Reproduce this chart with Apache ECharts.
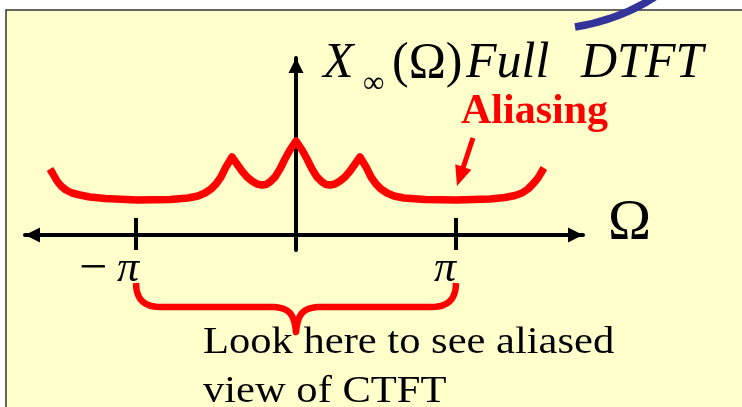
<!DOCTYPE html>
<html>
<head>
<meta charset="utf-8">
<script src="https://cdn.jsdelivr.net/npm/echarts@6/dist/echarts.min.js"></script>
<style>
  html, body { margin: 0; padding: 0; background: #ffffff; }
  #chart { width: 742px; height: 407px; }
</style>
</head>
<body>
<div id="chart"></div>
<script>
// Frequency Ω in units of π, and |X∞(Ω)| measured above the frequency axis
const omega = [
  -1.538, -1.519, -1.494, -1.469, -1.438, -1.400, -1.350, -1.288, -1.194, -0.994,
  -0.788, -0.675, -0.613, -0.569, -0.531, -0.500, -0.469, -0.438, -0.400, -0.369,
  -0.338, -0.306, -0.275, -0.244, -0.213, -0.188, -0.163, -0.131, -0.100, -0.069,
  -0.038, 0.000, 0.038, 0.069, 0.100, 0.131, 0.163, 0.188, 0.213, 0.244,
  0.275, 0.306, 0.338, 0.369, 0.400, 0.438, 0.469, 0.500, 0.531, 0.569,
  0.613, 0.675, 0.806, 1.000, 1.213, 1.306, 1.369, 1.413, 1.450, 1.481,
  1.513, 1.531, 1.550
];
const magnitude = [
  66, 61, 54, 49, 45, 42, 40, 38, 36.5, 35,
  35.5, 37, 39, 42, 46, 51, 58, 68, 78, 71,
  64, 58, 54, 51, 50, 50.5, 53, 58, 66, 76,
  85, 94, 85, 76, 66, 58, 53, 50.5, 50, 51,
  54, 58, 64, 71, 78, 68, 58, 51, 46, 42,
  39, 37, 35.5, 35, 36, 37.5, 39.5, 42, 46, 51,
  57, 62, 67
];
const tickValues = [-1, 1];
const tickLabels = ['π', 'π'];
const tickSigns = ['−', ''];
const axisRange = { xMin: -1.694, xMax: 1.794, yMin: -15, yMax: 177 };

const FONT = '"Liberation Serif", "Times New Roman", serif';
const chart = echarts.init(document.getElementById('chart'), null, { renderer: 'canvas' });

const axisStroke = { color: '#000000', width: 4 };

chart.setOption({
  backgroundColor: '#ffffff',
  animation: false,
  grid: { left: 25, right: 159, top: 58, bottom: 157 },
  xAxis: [
    {
      type: 'value', min: axisRange.xMin, max: axisRange.xMax, position: 'bottom',
      axisLine: {
        show: true, onZero: true, onZeroAxisIndex: 0,
        symbol: ['triangle', 'triangle'], symbolSize: [15, 15], symbolOffset: [7.5, -7.5],
        lineStyle: axisStroke
      },
      axisTick: { show: true, customValues: tickValues, length: 15, inside: false, lineStyle: axisStroke },
      axisLabel: { show: false },
      splitLine: { show: false }
    },
    {
      // upper half of the ±π tick marks
      type: 'value', min: axisRange.xMin, max: axisRange.xMax, position: 'top',
      axisLine: { show: false, onZero: true, onZeroAxisIndex: 0 },
      axisTick: { show: true, customValues: tickValues, length: 17, inside: false, lineStyle: axisStroke },
      axisLabel: { show: false },
      splitLine: { show: false }
    }
  ],
  yAxis: {
    type: 'value', min: axisRange.yMin, max: axisRange.yMax,
    axisLine: {
      show: true, onZero: true,
      symbol: ['none', 'triangle'], symbolSize: [15, 15], symbolOffset: [0, -7.5],
      lineStyle: axisStroke
    },
    axisTick: { show: false },
    axisLabel: { show: false },
    splitLine: { show: false }
  },
  series: [{
    type: 'line',
    xAxisIndex: 0,
    yAxisIndex: 0,
    data: omega.map((w, i) => [w, magnitude[i]]),
    symbol: 'none',
    smooth: false,
    silent: true,
    z: 5,
    lineStyle: { color: '#ff0000', width: 7.5, join: 'round', cap: 'butt' }
  }]
});

// ---- annotations, anchored to the axes ----
const toPx = (v, h) => chart.convertToPixel({ xAxisIndex: 0, yAxisIndex: 0 }, [v, h]);
const origin = toPx(0, 0);
const axisY = origin[1];
const tickPx = tickValues.map(v => toPx(v, 0)[0]);

// baseline-positioned text
function text(str, x, baseline, size, opt) {
  opt = opt || {};
  return {
    type: 'text', x: x, y: baseline - size * 0.305, z: 30, silent: true,
    scaleX: opt.scaleX || 1,
    style: {
      text: str,
      font: (opt.italic ? 'italic ' : '') + (opt.bold ? 'bold ' : '') + size + 'px ' + FONT,
      fill: opt.color || '#000000',
      align: 'left', verticalAlign: 'middle'
    }
  };
}

function quad(p0, c, p1, n, out) {
  for (let i = 1; i <= n; i++) {
    const t = i / n, u = 1 - t;
    out.push([u * u * p0[0] + 2 * u * t * c[0] + t * t * p1[0], u * u * p0[1] + 2 * u * t * c[1] + t * t * p1[1]]);
  }
}
function cubic(p0, c1, c2, p1, n, out) {
  for (let i = 1; i <= n; i++) {
    const t = i / n, u = 1 - t;
    out.push([
      u * u * u * p0[0] + 3 * u * u * t * c1[0] + 3 * u * t * t * c2[0] + t * t * t * p1[0],
      u * u * u * p0[1] + 3 * u * u * t * c1[1] + 3 * u * t * t * c2[1] + t * t * t * p1[1]
    ]);
  }
}

// curly brace spanning −π … π below the axis
const L = tickPx[0], R = tickPx[1], M = (L + R) / 2;
const yTop = axisY + 48, yBar = axisY + 72, yTip = axisY + 97;
const brace = [[L, yTop]];
quad([L, yTop], [L, yBar], [L + 24, yBar], 12, brace);
brace.push([M - 26, yBar]);
cubic([M - 26, yBar], [M - 8, yBar], [M - 2, yBar + 5], [M, yTip], 12, brace);
cubic([M, yTip], [M + 2, yBar + 5], [M + 8, yBar], [M + 26, yBar], 12, brace);
brace.push([R - 24, yBar]);
quad([R - 24, yBar], [R, yBar], [R, yTop], 12, brace);

// arrow pointing at the aliased copy near Ω = π
const tip = [R + 1, axisY - 49];
const tail = [R + 17, axisY - 97];
const dx = tip[0] - tail[0], dy = tip[1] - tail[1];
const len = Math.hypot(dx, dy), ux = dx / len, uy = dy / len;
const headLen = 20, headHalf = 8.5;
const base = [tip[0] - ux * headLen, tip[1] - uy * headLen];

const graphics = [
  {
    type: 'rect', z: -10, silent: true,
    shape: { x: 6, y: 10, width: 800, height: 450 },
    style: { fill: '#ffffcc', stroke: '#333333', lineWidth: 1.5 }
  },
  {
    type: 'bezierCurve', z: 40, silent: true,
    shape: { x1: 575, y1: 27, cpx1: 600, cpy1: 23, cpx2: 630, cpy2: 15, x2: 662, y2: -8 },
    style: { stroke: '#333399', lineWidth: 7.5, fill: null, lineCap: 'butt' }
  },
  {
    type: 'polyline', z: 30, silent: true,
    shape: { points: brace },
    style: { stroke: '#ff0000', lineWidth: 6.5, fill: null, lineJoin: 'round', lineCap: 'butt' }
  },
  {
    type: 'line', z: 30, silent: true,
    shape: { x1: tail[0], y1: tail[1], x2: base[0] + ux * 2, y2: base[1] + uy * 2 },
    style: { stroke: '#ff0000', lineWidth: 5 }
  },
  {
    type: 'polygon', z: 30, silent: true,
    shape: { points: [tip, [base[0] - uy * headHalf, base[1] + ux * headHalf], [base[0] + uy * headHalf, base[1] - ux * headHalf]] },
    style: { fill: '#ff0000' }
  },
  // title of the vertical axis
  text('X', 323, 79, 50, { italic: true }),
  text('∞', 363, 93, 30),
  text('(Ω)', 392, 79, 50),
  text('Full', 466, 79, 50, { italic: true }),
  text('DTFT', 581, 79, 50, { italic: true }),
  text('Aliasing', 461, 125, 42, { bold: true, color: '#ff0000' }),
  // frequency axis name
  text('Ω', toPx(axisRange.xMax, 0)[0] + 25, axisY + 6, 58),
  text('Look here to see aliased', 203, 355, 38, { scaleX: 1.12 }),
  text('view of CTFT', 203, 404, 38, { scaleX: 1.12 })
];

// tick labels −π and π
tickValues.forEach((v, i) => {
  const x = tickPx[i];
  if (tickSigns[i]) graphics.push(text(tickSigns[i], x - 57, axisY + 50, 50));
  graphics.push(text(tickLabels[i], x - (i === 0 ? 19 : 22), axisY + 48, 44, { italic: true }));
});

chart.setOption({ graphic: graphics });
</script>
</body>
</html>
